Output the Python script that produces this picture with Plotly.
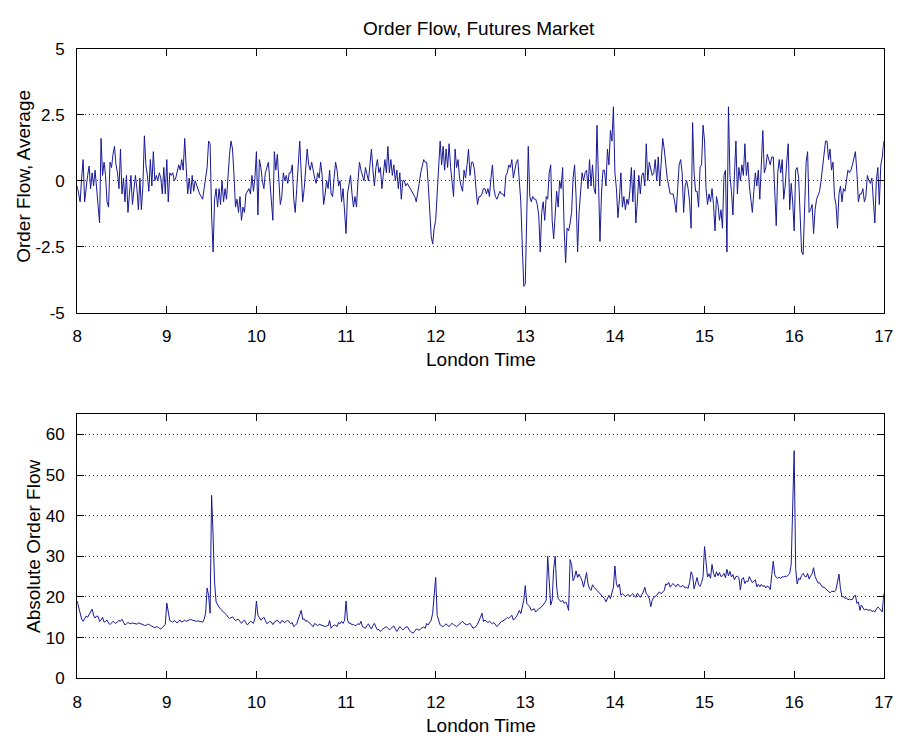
import numpy as np
import plotly.graph_objects as go

# Per-minute average order flow, one list per trading hour (London time)
avg_08 = [-0.2, -0.5, -0.8, 0.1, 0.8, -0.8, -0.2, 0.2, 0.55, -0.3,
          0.3, -0.2, 0.4, -0.3, -1.0, -1.6, 1.6, 0.2, 0.7, 0.2,
          -0.8, -1.0, 0.7, 0.5, 1.0, 1.3, 0.6, 0.3, -0.3, 1.2,
          -0.5, 0.1, -0.8, 0.2, -1.2, -0.4, 0.2, -0.9, -0.4, 0.2,
          -0.3, -1.1, 0.1, -1.1, -0.2, 1.7, 0.6, 0.2, -0.4, 0.8,
          -0.2, 1.1, 0.0, 0.2, 0.0, 0.3, 0.1, -0.5, 0.5, -0.5]
avg_09 = [0.8, -0.8, 0.3, 0.2, 0.3, 0.0, 0.1, 0.3, 0.6, 0.4,
          0.8, 0.4, 1.6, 0.5, -0.5, 0.1, -0.5, 0.2, -0.4, 0.0,
          -0.2, -0.4, -0.5, -0.6, -0.7, -0.3, 0.2, 0.5, 1.5, 1.4,
          -1.3, -2.7, -0.7, -0.3, -1.0, -0.3, -0.9, 0.0, -0.8, -0.3,
          -0.7, 0.2, 1.0, 1.5, 1.2, 0.2, -1.0, -0.7, -1.2, -0.6,
          -1.5, -1.0, -1.2, -0.5, -0.4, -0.3, -0.5, 0.2, -0.4, 0.1]
avg_10 = [1.1, -1.3, 0.8, 0.5, 0.0, -0.3, 0.3, 0.5, 0.7, 0.0,
          -0.8, -1.5, 1.1, 0.4, 1.0, 0.0, -0.9, -0.6, 0.3, 0.0,
          0.2, -0.1, 0.3, 0.3, 0.6, -0.7, -1.2, -0.3, 0.6, 1.5,
          0.3, -0.8, -0.3, 0.5, 1.2, 0.6, 0.4, 0.7, 0.3, 0.1,
          -0.1, 0.3, 0.1, 0.7, 0.2, -0.9, -0.5, 0.0, -0.3, 0.4,
          -0.5, -0.6, 0.1, 0.7, 0.4, -0.2, 0.0, -0.8, -0.3, -1.3]
avg_11 = [-2.0, -0.5, -0.2, 0.2, -0.5, -1.0, -0.6, -1.0, 0.0, 0.7,
          0.4, 0.2, 0.0, 0.5, 0.3, 0.0, 0.6, 1.2, 0.4, -0.2,
          0.5, 0.8, 0.3, 0.5, -0.3, 0.4, 0.8, 0.3, 1.3, 0.3,
          0.8, 0.2, 0.6, 0.0, 0.4, -0.3, 0.3, -0.7, 0.0, 0.0,
          -0.2, -0.1, -0.2, -0.3, -0.4, -0.5, -0.6, -0.8, -0.5, -0.1,
          0.3, 0.6, 0.8, 0.7, 0.7, -0.1, -1.2, -2.1, -2.4, -1.8]
avg_12 = [-1.5, -0.5, 0.7, 1.5, 0.6, 1.3, 0.4, 1.2, 0.5, 1.4,
          0.5, -0.1, -0.6, 1.2, 0.5, 0.8, 0.1, -0.2, -0.4, 0.4,
          0.1, 0.6, 1.2, 0.2, 0.7, 0.7, 0.4, -0.3, -0.9, -0.6,
          -0.6, -0.5, -0.3, -0.3, -0.5, -0.3, -0.6, 0.1, 0.6, -0.3,
          -0.6, -0.7, -0.5, -0.4, -0.5, -0.5, -0.6, 0.2, 0.3, 0.6,
          0.5, 0.8, 0.1, 0.4, 0.7, 0.8, 0.0, -0.8, -2.5, -4.0]
avg_13 = [-3.9, -0.6, 1.3, -0.6, -0.8, -0.6, -0.7, -0.7, -0.9, -1.3,
          -2.7, -1.2, -0.8, -1.5, -0.6, -0.7, 0.3, 0.6, -1.5, -2.2,
          -1.0, -0.4, -1.0, 0.0, -0.3, 0.5, -1.8, -3.1, -1.8, -1.9,
          -1.6, -1.2, 0.1, 0.6, -0.6, -2.7, -1.2, -0.3, 0.3, 0.0,
          0.3, 0.4, -0.3, 0.8, -0.2, 0.6, -0.3, -0.5, 2.1, 0.0,
          -2.3, -0.5, 0.4, 0.4, -0.2, 1.2, 0.6, 1.9, 1.5, 2.8]
avg_14 = [0.3, -0.3, -1.4, -0.7, 0.3, -1.0, -0.6, -1.1, -0.7, -0.9,
          -0.4, 0.5, -0.8, 0.4, -1.6, -0.8, 0.2, -0.5, 0.2, 0.3,
          -0.2, 1.4, 0.0, 0.7, 0.4, 0.2, 0.3, 0.8, 0.0, 0.9,
          -0.2, 0.8, 1.6, 1.2, 0.6, 0.1, -0.2, -0.5, -0.5, -0.5,
          -0.8, -1.2, -0.3, 0.6, 0.8, 0.3, -1.2, -0.2, 0.0, -0.3,
          -0.8, -1.8, 2.2, 0.3, -0.4, -0.4, -1.0, 0.5, 0.6, 2.1]
avg_15 = [1.5, -0.3, -0.9, -0.5, -0.8, -0.3, -0.9, -1.9, -0.6, -0.9,
          -1.5, -1.1, -1.8, 0.2, 0.4, -2.7, 2.8, 0.2, -0.4, -1.3,
          0.2, 1.5, -0.5, 0.5, 0.0, 0.6, 0.2, 1.4, 0.2, 0.7,
          -0.2, -0.7, -1.2, -0.4, 0.3, -0.2, 0.4, -0.7, 0.8, 1.9,
          0.3, 0.5, 1.0, 0.8, 0.6, 0.9, 0.9, -0.4, -1.7, 0.3,
          0.8, 0.3, 0.8, -0.7, -0.2, 0.7, 1.4, -1.1, -0.1, -0.8]
avg_16 = [-1.9, 0.4, 0.5, 0.1, -1.3, -2.7, -2.8, -0.9, 0.7, 1.1,
          -1.2, -1.1, -0.9, -2.0, -1.1, -0.7, -0.5, -0.4, 0.0, 0.5,
          1.0, 1.5, 1.5, 0.8, 1.2, 0.4, 0.7, -0.6, -0.9, -1.8,
          -0.5, -0.2, -0.8, -0.3, -0.4, 0.0, 0.4, 0.3, 0.4, 0.6,
          0.9, 1.1, 0.3, -0.8, -0.5, -0.5, -0.3, -0.8, -0.6, 0.2,
          0.0, -0.1, 0.1, -0.6, -1.6, 0.0, 0.5, -0.9, 0.6, 0.9,
          1.5]

# Per-minute absolute order flow, one list per trading hour
abs_08 = [19.0, 17.5, 16.2, 14.5, 14.0, 14.8, 15.3, 15.0, 15.8, 16.3,
          17.0, 15.5, 14.8, 15.3, 15.2, 14.0, 14.3, 15.0, 13.8, 14.0,
          14.3, 13.6, 13.2, 13.6, 14.0, 13.7, 13.5, 13.9, 14.2, 14.0,
          14.5, 13.8, 13.1, 13.4, 13.7, 13.5, 13.4, 13.6, 13.5, 13.3,
          13.3, 13.6, 13.5, 13.4, 13.2, 13.0, 13.0, 13.2, 13.3, 13.0,
          12.8, 12.6, 12.4, 12.7, 12.6, 12.3, 12.1, 12.5, 13.0, 13.2]
abs_09 = [18.5, 16.0, 14.2, 14.0, 13.8, 14.2, 14.0, 13.6, 14.1, 14.3,
          13.8, 14.0, 14.3, 14.0, 14.2, 14.4, 14.5, 14.3, 14.2, 14.0,
          14.0, 14.1, 14.0, 13.8, 13.8, 14.5, 16.0, 22.2, 20.4, 16.0,
          45.0, 35.2, 23.6, 18.8, 18.0, 17.5, 17.0, 16.7, 16.4, 16.1,
          15.6, 15.0, 14.7, 14.9, 15.1, 14.6, 14.2, 14.4, 14.5, 14.0,
          13.5, 14.0, 14.3, 13.6, 13.1, 13.6, 14.0, 13.8, 13.5, 14.7]
abs_10 = [19.0, 15.5, 14.8, 14.3, 14.6, 15.0, 14.2, 13.4, 13.7, 14.0,
          13.8, 13.2, 13.8, 14.0, 14.3, 13.8, 13.5, 14.2, 13.9, 13.7,
          14.0, 14.3, 13.8, 13.4, 13.7, 12.7, 13.0, 13.4, 14.5, 15.5,
          16.7, 14.5, 14.6, 14.0, 14.2, 13.7, 13.5, 13.0, 12.7, 13.5,
          13.2, 12.9, 13.3, 13.1, 13.0, 12.9, 12.7, 12.9, 12.9, 14.2,
          12.3, 12.8, 13.1, 13.0, 12.7, 13.7, 13.4, 14.0, 13.5, 14.2]
abs_11 = [19.0, 14.3, 13.5, 13.6, 13.1, 13.3, 12.9, 13.1, 13.4, 13.2,
          14.0, 12.7, 12.5, 12.3, 12.9, 13.4, 12.6, 12.1, 13.0, 13.5,
          12.6, 11.9, 12.0, 11.5, 11.9, 12.3, 12.5, 12.7, 12.3, 11.9,
          12.2, 12.6, 12.9, 12.1, 11.5, 12.1, 12.7, 12.3, 11.9, 12.2,
          12.6, 12.7, 12.0, 11.5, 11.3, 11.1, 11.6, 12.1, 12.0, 11.8,
          12.2, 12.5, 12.6, 12.3, 13.5, 13.1, 13.8, 14.3, 16.0, 20.4]
abs_12 = [24.8, 15.5, 14.0, 13.1, 12.9, 12.7, 13.0, 13.4, 13.0, 12.7,
          13.2, 13.5, 13.2, 12.9, 12.7, 13.0, 13.4, 13.7, 14.0, 13.5,
          13.2, 13.1, 13.3, 13.5, 12.9, 12.3, 12.5, 12.7, 13.3, 14.0,
          15.0, 16.0, 14.0, 14.3, 13.9, 13.7, 14.0, 13.8, 13.4, 13.7,
          13.2, 12.7, 13.1, 13.5, 14.0, 14.1, 14.3, 14.6, 15.0, 14.7,
          15.1, 15.5, 14.3, 14.7, 15.1, 15.8, 16.7, 15.9, 17.5, 19.2]
abs_13 = [22.8, 18.4, 18.0, 17.6, 16.7, 16.9, 17.1, 16.3, 16.8, 17.1,
          17.3, 17.6, 18.0, 18.6, 19.2, 30.0, 24.0, 18.0, 19.2, 27.0,
          30.0, 22.4, 19.6, 19.2, 18.8, 19.2, 18.4, 18.8, 18.0, 16.7,
          29.2, 28.0, 24.0, 24.8, 26.4, 24.8, 25.6, 24.8, 24.0, 22.4,
          24.0, 26.0, 23.2, 22.0, 21.6, 23.0, 22.4, 22.0, 21.6, 21.2,
          21.0, 20.4, 20.0, 19.6, 18.8, 19.8, 20.4, 19.6, 20.8, 22.4]
abs_14 = [27.6, 23.2, 22.4, 23.2, 20.4, 20.8, 20.5, 20.1, 20.4, 20.6,
          20.1, 20.4, 20.8, 20.3, 19.9, 20.9, 20.4, 19.9, 20.6, 21.2,
          22.4, 20.8, 20.4, 19.6, 17.6, 19.2, 19.9, 20.1, 20.4, 21.0,
          21.2, 20.8, 21.2, 21.6, 23.2, 23.0, 23.6, 22.4, 23.0, 23.3,
          22.8, 22.5, 23.2, 22.8, 22.4, 22.8, 22.7, 22.2, 22.4, 22.1,
          23.6, 26.2, 25.3, 22.0, 23.8, 24.8, 23.0, 22.6, 23.5, 25.0]
abs_15 = [32.4, 28.8, 24.9, 25.7, 24.6, 28.0, 25.8, 24.9, 26.2, 25.2,
          26.0, 25.0, 25.2, 25.8, 24.7, 26.8, 25.2, 26.3, 24.9, 25.5,
          24.2, 25.0, 25.1, 24.8, 21.7, 24.4, 24.8, 23.3, 23.9, 23.7,
          25.0, 24.2, 23.5, 23.9, 24.2, 22.5, 23.1, 22.5, 23.1, 22.6,
          22.8, 22.2, 22.7, 22.5, 21.8, 25.5, 28.8, 25.5, 24.8, 24.6,
          24.9, 24.5, 25.0, 24.9, 25.1, 25.0, 25.3, 25.8, 28.0, 45.0]
abs_16 = [56.0, 27.0, 23.2, 24.6, 24.3, 25.3, 25.8, 25.1, 24.9, 25.8,
          24.4, 25.2, 25.7, 27.2, 25.0, 24.2, 23.4, 23.5, 23.0, 22.4,
          22.4, 22.0, 21.6, 21.2, 21.0, 21.4, 21.4, 21.3, 21.8, 24.0,
          25.6, 22.0, 20.0, 20.1, 19.6, 19.8, 19.3, 19.5, 19.3, 19.4,
          20.2, 20.4, 18.4, 18.8, 16.7, 18.0, 17.3, 16.8, 17.0, 16.8,
          16.7, 16.9, 16.4, 16.6, 16.3, 17.0, 17.5, 17.2, 16.8, 16.3,
          20.8]

hour_ticks = [8, 9, 10, 11, 12, 13, 14, 15, 16, 17]
avg_ticks = [-5, -2.5, 0, 2.5, 5]
avg_tick_text = ["-5", "-2.5", "0", "2.5", "5"]
abs_ticks = [0, 10, 20, 30, 40, 50, 60]

order_flow_avg = np.concatenate([avg_08, avg_09, avg_10, avg_11, avg_12,
                                 avg_13, avg_14, avg_15, avg_16])
order_flow_abs = np.concatenate([abs_08, abs_09, abs_10, abs_11, abs_12,
                                 abs_13, abs_14, abs_15, abs_16])
# one sample per minute from 08:00 to 17:00
london_time = 8 + np.arange(len(order_flow_avg)) / 60.0

W, H = 899, 746
LINE_COLOR = "rgb(24,24,150)"
FONT = "Liberation Sans, Arial, sans-serif"


def px_x(p):
    return p / W


def px_y(p):
    return (H - p) / H


fig = go.Figure()
fig.add_trace(go.Scatter(x=london_time, y=order_flow_avg, mode="lines",
                         line=dict(color=LINE_COLOR, width=1),
                         xaxis="x", yaxis="y", hoverinfo="skip"))
fig.add_trace(go.Scatter(x=london_time, y=order_flow_abs, mode="lines",
                         line=dict(color=LINE_COLOR, width=1),
                         xaxis="x2", yaxis="y2", hoverinfo="skip"))

left, right = 73.3, 892.7
top1, bot1 = 40.7, 311.7
top2, bot2 = 415.7, 686.7

common_axis = dict(
    showline=True, linecolor="black", linewidth=1, mirror="ticks",
    ticks="inside", ticklen=7, tickwidth=1, tickcolor="black",
    zeroline=False, ticklabeloverflow="allow",
    tickfont=dict(family=FONT, size=17, color="black"),
)
x_axis = dict(range=[8, 17], tickvals=hour_ticks, showgrid=False,
              domain=[px_x(left), px_x(right)], ticklabelstandoff=8,
              **common_axis)
grid_style = dict(showgrid=True, gridcolor="#3a3a3a", gridwidth=1,
                  griddash="1px,3px", ticklabelstandoff=8)

fig.update_layout(
    width=W, height=H,
    margin=dict(l=0, r=0, t=0, b=0),
    paper_bgcolor="white", plot_bgcolor="white",
    showlegend=False,
    xaxis=dict(anchor="y", **x_axis),
    yaxis=dict(domain=[px_y(bot1), px_y(top1)], range=[-5, 5],
               tickvals=avg_ticks, ticktext=avg_tick_text, anchor="x",
               **grid_style, **common_axis),
    xaxis2=dict(anchor="y2", **x_axis),
    yaxis2=dict(domain=[px_y(bot2), px_y(top2)], range=[0, 65],
                tickvals=abs_ticks, anchor="x2",
                **grid_style, **common_axis),
)

text_font = dict(family=FONT, size=19, color="black")
annotations = [
    dict(text="Order Flow, Futures Market", x=px_x(481), y=px_y(19.5)),
    dict(text="London Time", x=px_x(483.5), y=px_y(360)),
    dict(text="London Time", x=px_x(483.5), y=px_y(735)),
    dict(text="Order Flow, Average", x=px_x(18.5), y=px_y(172), textangle=-90),
    dict(text="Absolute Order Flow", x=px_x(29), y=px_y(551.5), textangle=-90),
]
for a in annotations:
    fig.add_annotation(xref="paper", yref="paper", showarrow=False,
                       xanchor="center", yanchor="middle", font=text_font, **a)

# the figure fills the page edge to edge
page_style = "document.body.style.margin='0';"
fig.write_html("out.html", post_script=page_style)
